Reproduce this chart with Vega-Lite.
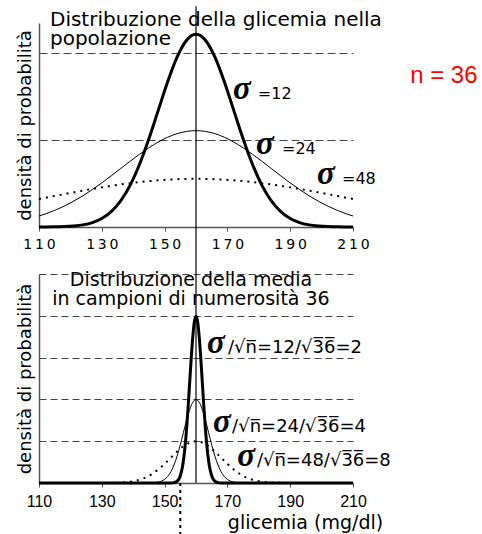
{
"$schema": "https://vega.github.io/schema/vega-lite/v6.json",
"padding": {"left": 16, "top": 5, "right": 5, "bottom": 0},
"bounds": "flush",
"spacing": 47,
"config": {"view": {"stroke": null}},
"datasets": {
"top": [
{"s":12,"x":110,"d":0.000006},{"s":12,"x":112,"d":0.000011},{"s":12,"x":115,"d":0.000029},{"s":12,"x":118,"d":0.000073},{"s":12,"x":121,"d":0.000169},{"s":12,"x":124,"d":0.000369},{"s":12,"x":127,"d":0.000758},{"s":12,"x":130,"d":0.001461},{"s":12,"x":133,"d":0.002645},{"s":12,"x":136,"d":0.004499},{"s":12,"x":139,"d":0.00719},{"s":12,"x":142,"d":0.010793},{"s":12,"x":145,"d":0.015221},{"s":12,"x":148,"d":0.020164},{"s":12,"x":151,"d":0.025095},{"s":12,"x":154,"d":0.029339},{"s":12,"x":157,"d":0.032223},{"s":12,"x":160,"d":0.033245},{"s":12,"x":163,"d":0.032223},{"s":12,"x":166,"d":0.029339},{"s":12,"x":169,"d":0.025095},{"s":12,"x":172,"d":0.020164},{"s":12,"x":175,"d":0.015221},{"s":12,"x":178,"d":0.010793},{"s":12,"x":181,"d":0.00719},{"s":12,"x":184,"d":0.004499},{"s":12,"x":187,"d":0.002645},{"s":12,"x":190,"d":0.001461},{"s":12,"x":193,"d":0.000758},{"s":12,"x":196,"d":0.000369},{"s":12,"x":199,"d":0.000169},{"s":12,"x":202,"d":0.000073},{"s":12,"x":205,"d":0.000029},{"s":12,"x":208,"d":0.000011},{"s":12,"x":210,"d":0.000006},
{"s":24,"x":110,"d":0.001898},{"s":24,"x":112,"d":0.00225},{"s":24,"x":115,"d":0.002866},{"s":24,"x":118,"d":0.003595},{"s":24,"x":121,"d":0.004439},{"s":24,"x":124,"d":0.005397},{"s":24,"x":127,"d":0.006459},{"s":24,"x":130,"d":0.00761},{"s":24,"x":133,"d":0.008828},{"s":24,"x":136,"d":0.010082},{"s":24,"x":139,"d":0.011335},{"s":24,"x":142,"d":0.012548},{"s":24,"x":145,"d":0.013673},{"s":24,"x":148,"d":0.01467},{"s":24,"x":151,"d":0.015494},{"s":24,"x":154,"d":0.016111},{"s":24,"x":157,"d":0.016493},{"s":24,"x":160,"d":0.016623},{"s":24,"x":163,"d":0.016493},{"s":24,"x":166,"d":0.016111},{"s":24,"x":169,"d":0.015494},{"s":24,"x":172,"d":0.01467},{"s":24,"x":175,"d":0.013673},{"s":24,"x":178,"d":0.012548},{"s":24,"x":181,"d":0.011335},{"s":24,"x":184,"d":0.010082},{"s":24,"x":187,"d":0.008828},{"s":24,"x":190,"d":0.00761},{"s":24,"x":193,"d":0.006459},{"s":24,"x":196,"d":0.005397},{"s":24,"x":199,"d":0.004439},{"s":24,"x":202,"d":0.003595},{"s":24,"x":205,"d":0.002866},{"s":24,"x":208,"d":0.00225},{"s":24,"x":210,"d":0.001898},
{"s":48,"x":110,"d":0.004831},{"s":48,"x":112,"d":0.005041},{"s":48,"x":118,"d":0.005668},{"s":48,"x":124,"d":0.006274},{"s":48,"x":130,"d":0.006837},{"s":48,"x":136,"d":0.007335},{"s":48,"x":142,"d":0.007747},{"s":48,"x":148,"d":0.008056},{"s":48,"x":154,"d":0.008247},{"s":48,"x":160,"d":0.008311},{"s":48,"x":166,"d":0.008247},{"s":48,"x":172,"d":0.008056},{"s":48,"x":178,"d":0.007747},{"s":48,"x":184,"d":0.007335},{"s":48,"x":190,"d":0.006837},{"s":48,"x":196,"d":0.006274},{"s":48,"x":202,"d":0.005668},{"s":48,"x":208,"d":0.005041},{"s":48,"x":210,"d":0.004831}
],
"bot": [
{"s":2,"x":110,"d":0},{"s":2,"x":152,"d":0.00007},{"s":2,"x":153,"d":0.00044},{"s":2,"x":153.5,"d":0.00101},{"s":2,"x":154,"d":0.00222},{"s":2,"x":154.5,"d":0.00455},{"s":2,"x":155,"d":0.00877},{"s":2,"x":155.5,"d":0.01587},{"s":2,"x":156,"d":0.027},{"s":2,"x":156.5,"d":0.04314},{"s":2,"x":157,"d":0.06476},{"s":2,"x":157.5,"d":0.09133},{"s":2,"x":158,"d":0.12099},{"s":2,"x":158.5,"d":0.15057},{"s":2,"x":159,"d":0.17603},{"s":2,"x":159.5,"d":0.19334},{"s":2,"x":160,"d":0.19947},{"s":2,"x":160.5,"d":0.19334},{"s":2,"x":161,"d":0.17603},{"s":2,"x":161.5,"d":0.15057},{"s":2,"x":162,"d":0.12099},{"s":2,"x":162.5,"d":0.09133},{"s":2,"x":163,"d":0.06476},{"s":2,"x":163.5,"d":0.04314},{"s":2,"x":164,"d":0.027},{"s":2,"x":164.5,"d":0.01587},{"s":2,"x":165,"d":0.00877},{"s":2,"x":165.5,"d":0.00455},{"s":2,"x":166,"d":0.00222},{"s":2,"x":166.5,"d":0.00101},{"s":2,"x":167,"d":0.00044},{"s":2,"x":168,"d":0.00007},{"s":2,"x":210,"d":0},
{"s":4,"x":110,"d":0},{"s":4,"x":144,"d":0.000034},{"s":4,"x":146,"d":0.000218},{"s":4,"x":148,"d":0.001108},{"s":4,"x":149,"d":0.002273},{"s":4,"x":150,"d":0.004383},{"s":4,"x":151,"d":0.007935},{"s":4,"x":152,"d":0.013498},{"s":4,"x":153,"d":0.02157},{"s":4,"x":154,"d":0.03238},{"s":4,"x":155,"d":0.045663},{"s":4,"x":156,"d":0.060493},{"s":4,"x":157,"d":0.075285},{"s":4,"x":158,"d":0.088018},{"s":4,"x":159,"d":0.096668},{"s":4,"x":160,"d":0.099735},{"s":4,"x":161,"d":0.096668},{"s":4,"x":162,"d":0.088018},{"s":4,"x":163,"d":0.075285},{"s":4,"x":164,"d":0.060493},{"s":4,"x":165,"d":0.045663},{"s":4,"x":166,"d":0.03238},{"s":4,"x":167,"d":0.02157},{"s":4,"x":168,"d":0.013498},{"s":4,"x":169,"d":0.007935},{"s":4,"x":170,"d":0.004383},{"s":4,"x":171,"d":0.002273},{"s":4,"x":172,"d":0.001108},{"s":4,"x":174,"d":0.000218},{"s":4,"x":176,"d":0.000034},{"s":4,"x":210,"d":0},
{"s":8,"x":110,"d":0},{"s":8,"x":128,"d":0.000017},{"s":8,"x":132,"d":0.000109},{"s":8,"x":136,"d":0.000554},{"s":8,"x":138,"d":0.001136},{"s":8,"x":140,"d":0.002191},{"s":8,"x":142,"d":0.003968},{"s":8,"x":144,"d":0.006749},{"s":8,"x":146,"d":0.010785},{"s":8,"x":148,"d":0.01619},{"s":8,"x":150,"d":0.022831},{"s":8,"x":152,"d":0.030247},{"s":8,"x":154,"d":0.037643},{"s":8,"x":156,"d":0.044009},{"s":8,"x":158,"d":0.048334},{"s":8,"x":160,"d":0.049868},{"s":8,"x":162,"d":0.048334},{"s":8,"x":164,"d":0.044009},{"s":8,"x":166,"d":0.037643},{"s":8,"x":168,"d":0.030247},{"s":8,"x":170,"d":0.022831},{"s":8,"x":172,"d":0.01619},{"s":8,"x":174,"d":0.010785},{"s":8,"x":176,"d":0.006749},{"s":8,"x":178,"d":0.003968},{"s":8,"x":180,"d":0.002191},{"s":8,"x":182,"d":0.001136},{"s":8,"x":184,"d":0.000554},{"s":8,"x":188,"d":0.000109},{"s":8,"x":192,"d":0.000017},{"s":8,"x":210,"d":0}
]
},
"vconcat": [
{
"width": 314, "height": 204,
"encoding": {
"x": {"field": "x", "type": "quantitative", "scale": {"domain": [110, 210], "nice": false, "zero": false},
 "axis": {"values": [110,130,150,170,190,210], "title": null, "grid": false, "labelFlush": false, "labelOverlap": false,
  "labelFont": "DejaVu Sans", "labelFontSize": 14, "labelColor": "black", "labelExpr": "join(split(datum.label, ''), '\u2009')",
  "tickSize": 4, "labelPadding": 6, "tickColor": "#555", "domainColor": "#555", "domainWidth": 1.5}},
"y": {"field": "d", "type": "quantitative", "scale": {"domain": [0, 0.0352], "nice": false, "zero": false},
 "axis": {"values": [0.015, 0.03], "grid": true, "gridDash": [8, 4], "gridColor": "#444", "labels": false, "ticks": false,
  "domainColor": "#555", "domainWidth": 1.5, "title": "densità di probabilità", "titleFont": "DejaVu Sans", "titleFontSize": 18,
  "titleFontWeight": "normal", "titleColor": "black", "titlePadding": 5}}
},
"layer": [
{"data": {"name": "top"}, "transform": [{"filter": "datum.s == 48"}], "mark": {"type": "line", "color": "black", "strokeWidth": 2, "strokeDash": [2, 5], "interpolate": "monotone"}, "encoding": {}},
{"data": {"name": "top"}, "transform": [{"filter": "datum.s == 24"}], "mark": {"type": "line", "color": "black", "strokeWidth": 1, "interpolate": "monotone"}, "encoding": {}},
{"data": {"name": "top"}, "transform": [{"filter": "datum.s == 12"}], "mark": {"type": "line", "color": "black", "strokeWidth": 3, "interpolate": "monotone"}, "encoding": {}},
{"data": {"values": [{"x": 160, "d": 0.0381, "d2": -0.0081}]}, "mark": {"type": "rule", "color": "black", "strokeWidth": 1.2}, "encoding": {"y2": {"field": "d2"}}},
{"data": {"values": [{"x": 113.5, "d": 0.03468, "t": ["Distribuzione della glicemia nella", "popolazione"]}]},
 "mark": {"type": "text", "align": "left", "baseline": "alphabetic", "font": "DejaVu Sans", "fontSize": 20, "lineHeight": 19, "color": "black"},
 "encoding": {"text": {"field": "t"}}},
{"data": {"values": [{"x": 228.2, "d": 0.02485, "t": "n = 36"}]},
 "mark": {"type": "text", "align": "left", "baseline": "alphabetic", "font": "Liberation Sans", "fontSize": 24, "color": "#ff0000"},
 "encoding": {"text": {"field": "t"}}},
{"data": {"values": [{"x": 171.8, "d": 0.0221, "t": "σ"}, {"x": 179.1, "d": 0.0126, "t": "σ"}, {"x": 198.5, "d": 0.00742, "t": "σ"}]},
 "mark": {"type": "text", "align": "left", "baseline": "alphabetic", "font": "Liberation Serif", "fontStyle": "italic", "fontWeight": "bold", "fontSize": 33, "color": "black"},
 "encoding": {"text": {"field": "t"}}},
{"data": {"values": [{"x": 179.7, "d": 0.0221, "t": "=12"}, {"x": 187.4, "d": 0.0126, "t": "=24"}, {"x": 206.5, "d": 0.00742, "t": "=48"}]},
 "mark": {"type": "text", "align": "left", "baseline": "alphabetic", "font": "DejaVu Sans", "fontSize": 16, "color": "black"},
 "encoding": {"text": {"field": "t"}}}
]
},
{
"width": 314, "height": 209,
"encoding": {
"x": {"field": "x", "type": "quantitative", "scale": {"domain": [110, 210], "nice": false, "zero": false},
 "axis": {"values": [110,130,150,170,190,210], "grid": false, "labelFlush": false, "labelOverlap": false,
  "labelFont": "Liberation Sans", "labelFontSize": 16, "labelColor": "black",
  "tickSize": 4, "labelPadding": 6, "tickColor": "#555", "domainColor": "#555", "domainWidth": 1.5,
  "title": "glicemia (mg/dl)", "titleFont": "DejaVu Sans", "titleFontSize": 19, "titleFontWeight": "normal", "titleColor": "black",
  "titleX": 266, "titleY": 45, "titleAlign": "center", "titleBaseline": "alphabetic"}},
"y": {"field": "d", "type": "quantitative", "scale": {"domain": [0, 0.25], "nice": false, "zero": false},
 "axis": {"values": [0.05, 0.1, 0.15, 0.2, 0.25], "grid": true, "gridDash": [7, 4], "gridColor": "#444", "labels": false, "ticks": false,
  "domainColor": "#555", "domainWidth": 1.5, "title": "densità di probabilità", "titleFont": "DejaVu Sans", "titleFontSize": 18,
  "titleFontWeight": "normal", "titleColor": "black", "titlePadding": 5}}
},
"layer": [
{"data": {"name": "bot"}, "transform": [{"filter": "datum.s == 8"}], "mark": {"type": "line", "color": "black", "strokeWidth": 2, "strokeDash": [2, 5], "interpolate": "monotone"}, "encoding": {}},
{"data": {"name": "bot"}, "transform": [{"filter": "datum.s == 4"}], "mark": {"type": "line", "color": "black", "strokeWidth": 1, "interpolate": "monotone"}, "encoding": {}},
{"data": {"name": "bot"}, "transform": [{"filter": "datum.s == 2"}], "mark": {"type": "line", "color": "black", "strokeWidth": 3, "interpolate": "monotone"}, "encoding": {}},
{"data": {"values": [{"x": 160, "d": 0, "d2": 0.25}]}, "mark": {"type": "rule", "color": "black", "strokeWidth": 1.2}, "encoding": {"y2": {"field": "d2"}}},
{"data": {"values": [{"x": 155, "d": 0, "d2": -0.0622}]}, "mark": {"type": "rule", "color": "black", "strokeWidth": 2, "strokeDash": [3, 4]}, "encoding": {"y2": {"field": "d2"}}},
{"data": {"values": [{"x": 158.4, "d": 0.2356, "t": ["Distribuzione della media", "in campioni di numerosità 36"]}]},
 "mark": {"type": "text", "align": "center", "baseline": "alphabetic", "font": "DejaVu Sans", "fontSize": 19, "lineHeight": 19, "color": "black"},
 "encoding": {"text": {"field": "t"}}},
{"data": {"values": [{"x": 163.5, "d": 0.1555, "t": "σ"}, {"x": 165.4, "d": 0.061, "t": "σ"}, {"x": 173.1, "d": 0.0203, "t": "σ"}]},
 "mark": {"type": "text", "align": "left", "baseline": "alphabetic", "font": "Liberation Serif", "fontStyle": "italic", "fontWeight": "bold", "fontSize": 33, "color": "black"},
 "encoding": {"text": {"field": "t"}}},
{"data": {"values": [{"x": 170.2, "d": 0.1555, "t": "/√n̅=12/√3̅6̅=2"}, {"x": 171.5, "d": 0.061, "t": "/√n̅=24/√3̅6̅=4"}, {"x": 179.4, "d": 0.0203, "t": "/√n̅=48/√3̅6̅=8"}]},
 "mark": {"type": "text", "align": "left", "baseline": "alphabetic", "font": "DejaVu Sans", "fontSize": 18, "color": "black"},
 "encoding": {"text": {"field": "t"}}}
]
}
]
}
